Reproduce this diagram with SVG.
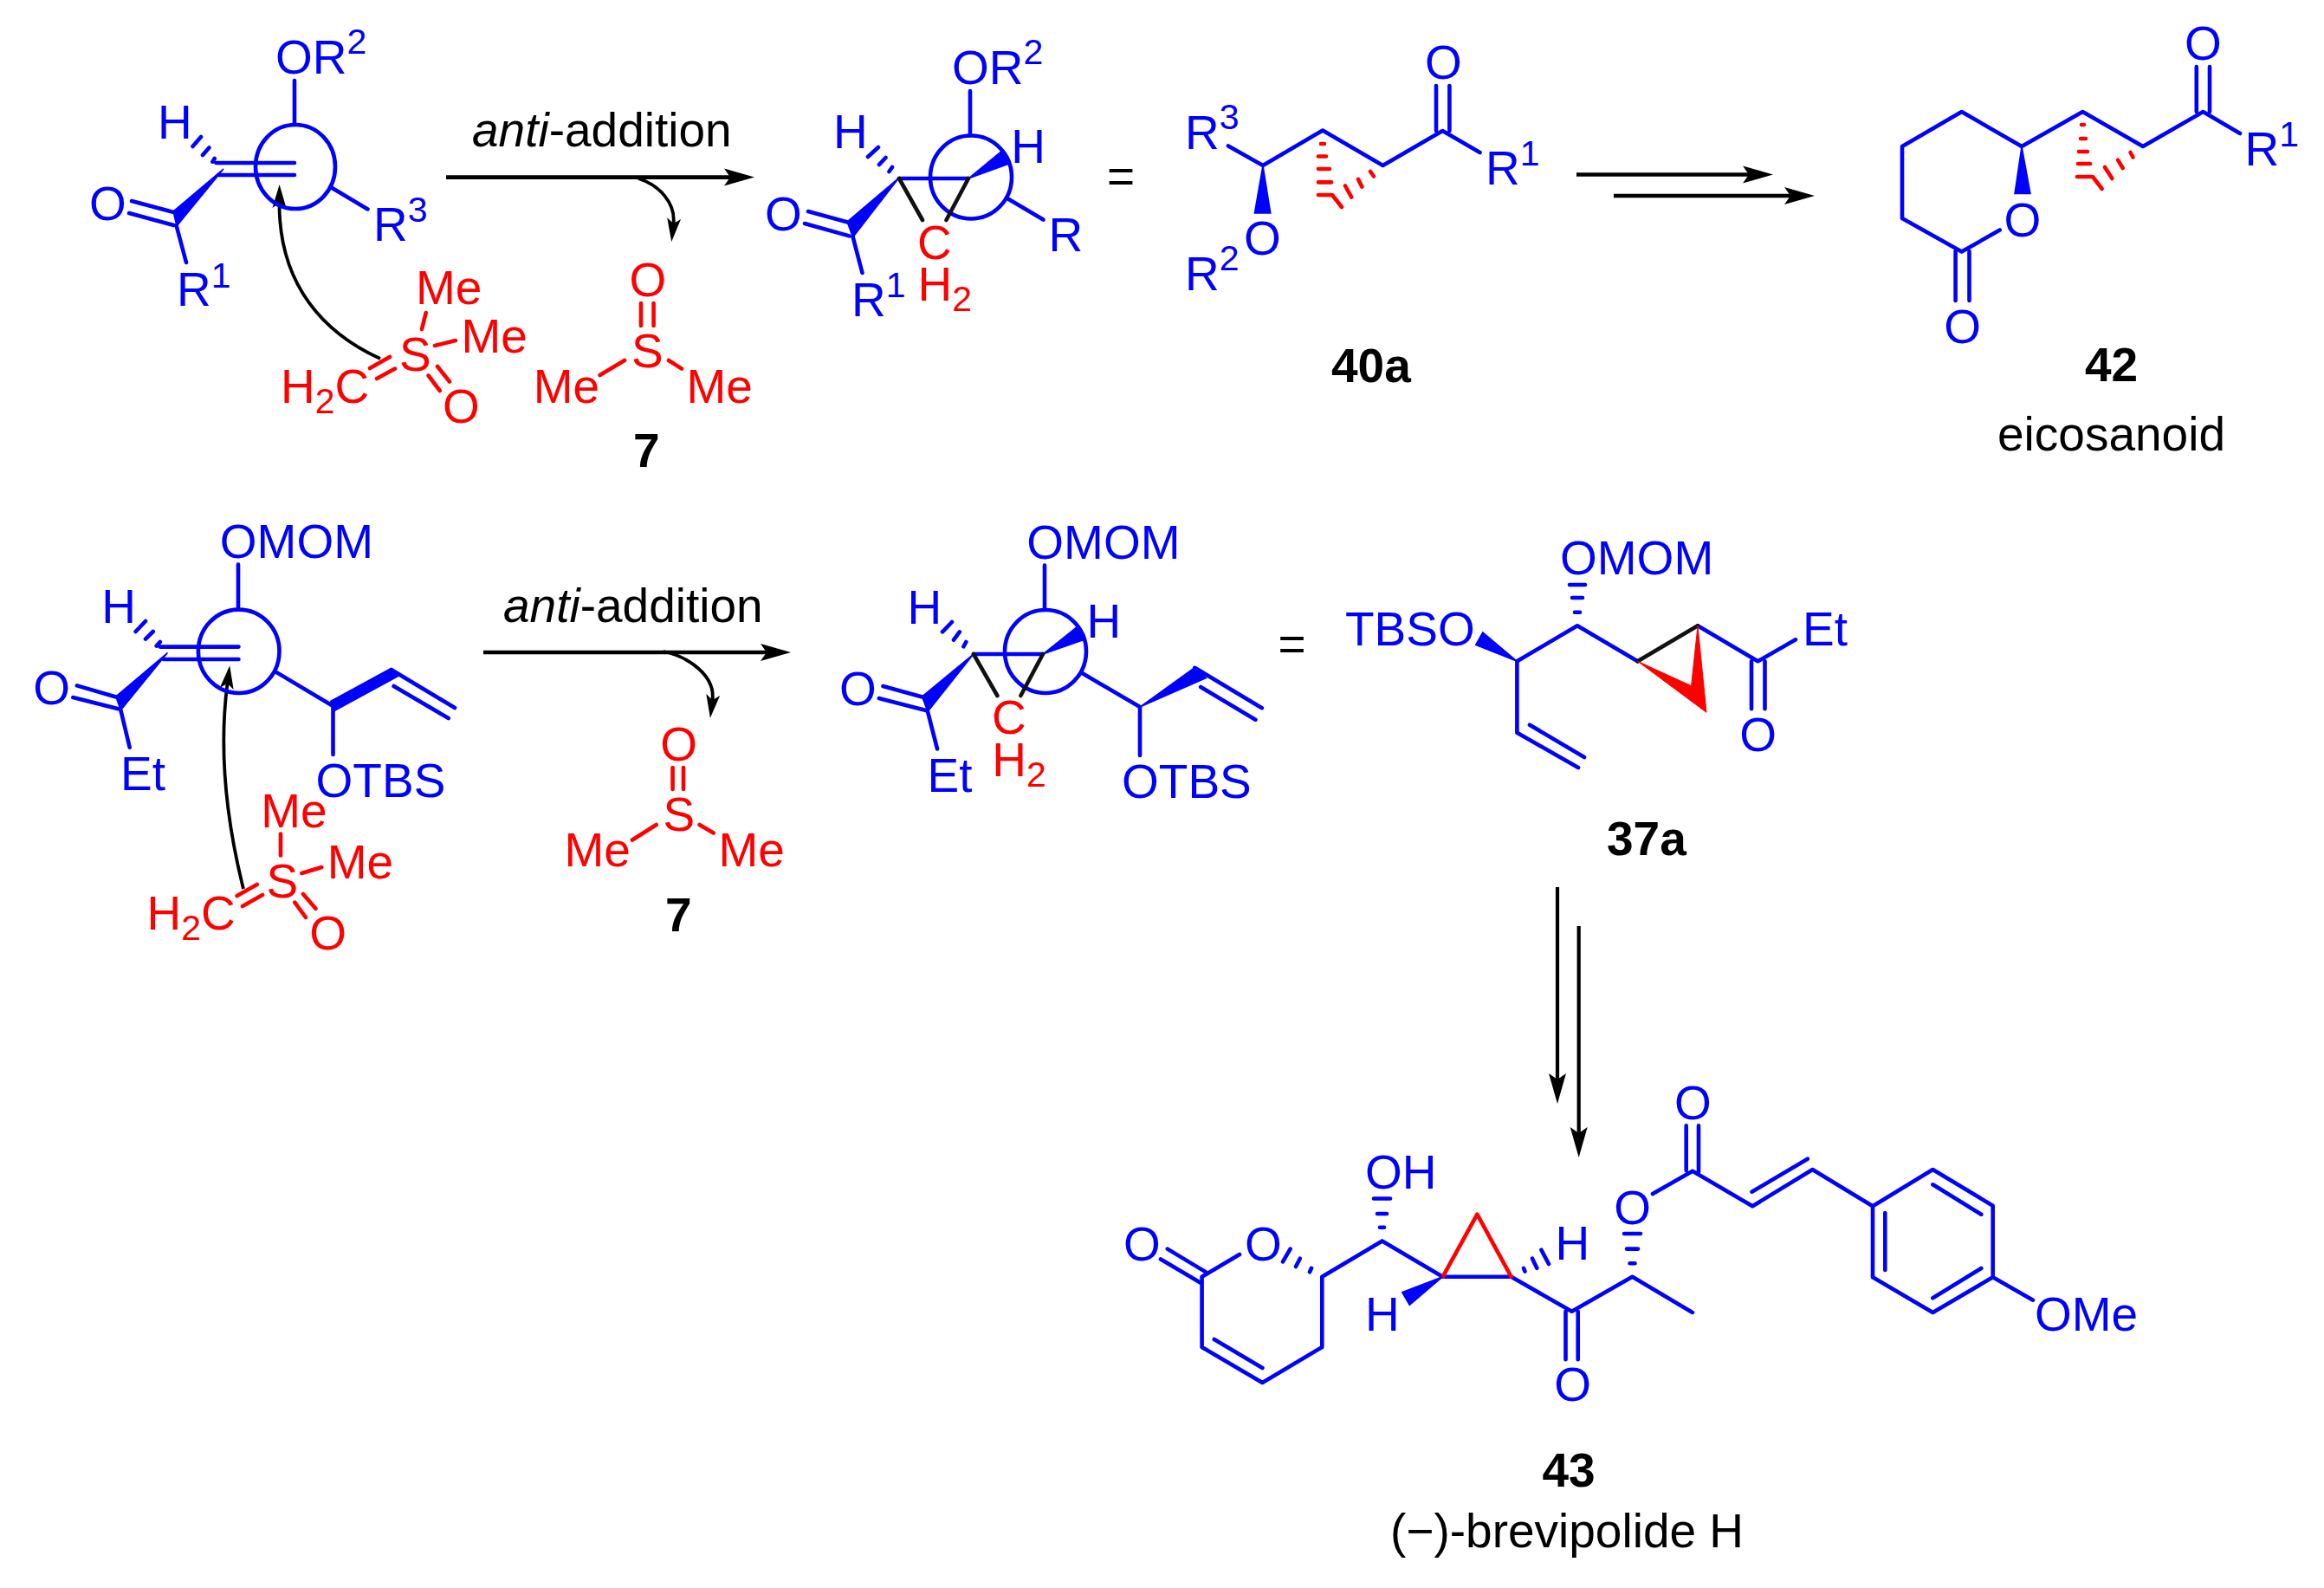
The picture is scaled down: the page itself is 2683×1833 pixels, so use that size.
<svg xmlns="http://www.w3.org/2000/svg" width="2683" height="1833" viewBox="0 0 2683 1833">
<style>
text{font-family:"Liberation Sans",Arial,sans-serif;font-size:55px}
.b{fill:#00f}.r{fill:#f00}.k{fill:#000}.bd{font-weight:700;fill:#000}.it{font-style:italic}
.sup{font-size:41px}
.lb,.lr,.lk{fill:none;stroke-width:4.6;stroke-linecap:round;stroke-linejoin:round}
.lb{stroke:#00f}.lr{stroke:#f00}.lk{stroke:#111}
.w{fill:#00f;stroke:#00f;stroke-width:1.5}.wr{fill:#f00;stroke:#f00;stroke-width:1}
.arr{fill:none;stroke:#000;stroke-width:4.6;marker-end:url(#ah)}
.arv{fill:none;stroke:#000;stroke-width:4.2;marker-end:url(#ah)}
.cur{fill:none;stroke:#000;stroke-width:3.8;marker-end:url(#ac)}
</style>
<defs>
<marker id="ah" markerUnits="userSpaceOnUse" markerWidth="36" markerHeight="22" viewBox="0 0 36 22" refX="7" refY="11" orient="auto"><path d="M35 11L0 1L7 11L0 21Z" fill="#000"/></marker>
<marker id="ac" markerUnits="userSpaceOnUse" markerWidth="28" markerHeight="18" viewBox="0 0 28 18" refX="6" refY="9" orient="auto"><path d="M27 9L0 1L6 9L0 17Z" fill="#000"/></marker>
</defs>

<g id="connectors">
<path class="arr" d="M515 204.6H843"/>
<path class="arr" d="M558 753H885"/>
<path class="arr" d="M1820 201.5H2019"/>
<path class="arr" d="M1863 226H2067"/>
<path class="arv" d="M1798 1024V1246"/>
<path class="arv" d="M1822.7 1069V1308"/>
<path class="cur" d="M737 206C762 214 780 235 777.5 258"/>
<path class="cur" d="M439 414C375 385 322 330 322.5 234"/>
<path class="cur" d="M766 752C795 758 826 780 822.5 808"/>
<path class="cur" d="M281 1026C262 950 252 870 262.5 789"/>
<text class="k" x="545" y="169"><tspan class="it">anti</tspan>-addition</text>
<text class="k" x="581" y="718"><tspan class="it">anti</tspan>-addition</text>
<text class="k" x="1278" y="222">=</text>
<text class="k" x="1475.5" y="762">=</text>
</g>

<g id="alkene-newman-1">
<ellipse class="lb" cx="341" cy="192.5" rx="46" ry="48.5"/>
<path class="lb" d="M340 93V144M249.5 188H340M252 202H340M382.6 216.6L424.5 241.4M203.5 260L215 303M152 232L200.6 245M149 246L200.6 260M232 158L222.5 169M241.4 170.5L234 179M247.7 183L245.4 186.7"/>
<polygon class="w" points="258,195 200,244 204,261"/>
<text class="b" x="318" y="85">OR<tspan class="sup" dy="-23">2</tspan></text>
<text class="b" x="182" y="160">H</text>
<text class="b" x="103" y="254">O</text>
<text class="b" x="204" y="353">R<tspan class="sup" dy="-21">1</tspan></text>
<text class="b" x="431" y="278">R<tspan class="sup" dy="-22">3</tspan></text>
</g>

<g id="sulfoxonium-ylide-1">
<path class="lr" d="M491.7 361L487 380M502 399L526 393M427 425L450 412M435 437L456 425.6M494.6 433.5L507.8 451M505 423L519 440.5"/>
<text class="r" x="461" y="428">S</text>
<text class="r" x="324" y="464.5">H<tspan style="font-size:41px" dy="12">2</tspan><tspan dy="-12">C</tspan></text>
<text class="r" x="480" y="351">Me</text>
<text class="r" x="532.5" y="407">Me</text>
<text class="r" x="511" y="488">O</text>
</g>

<g id="dmso-7-top">
<path class="lr" d="M740 350V376M754.6 350V376M692.6 433L721 416M772 416L787 425.6"/>
<text class="r" x="726.5" y="342">O</text>
<text class="r" x="729" y="424">S</text>
<text class="r" x="615.7" y="464.5">Me</text>
<text class="r" x="792.5" y="464.5">Me</text>
<text class="bd" x="731" y="539">7</text>
</g>

<g id="cyclopropane-newman-1">
<ellipse class="lb" cx="1121" cy="204.5" rx="47" ry="48"/>
<path class="lb" d="M1120 105V156M1038 206H1118M933 244L980.5 257M929 258L980.5 272.4M984.6 273.4L995.5 315M1162.5 228.7L1204.4 253.5M1014 170L1002 181M1022.5 182L1015 190M1030 193L1026.5 198"/>
<polygon class="w" points="1038,205 978,256 984.6,274"/>
<polygon class="w" points="1118,206 1155.6,175 1165.4,189"/>
<path class="lk" d="M1038 206L1065 254M1118 206L1092.5 254"/>
<text class="b" x="1099" y="97">OR<tspan class="sup" dy="-23">2</tspan></text>
<text class="b" x="962" y="171">H</text>
<text class="b" x="883" y="266">O</text>
<text class="b" x="983" y="365">R<tspan class="sup" dy="-22">1</tspan></text>
<text class="r" x="1059" y="299">C</text>
<text class="r" x="1059.4" y="347">H<tspan style="font-size:41px" dy="12">2</tspan></text>
<text class="b" x="1167.3" y="188">H</text>
<text class="b" x="1210.4" y="290">R</text>
</g>

<g id="compound-40a">
<path class="lb" d="M1418 168.4L1458 191L1527 150.5L1596.5 191L1665.4 151L1708.5 176M1658 99V151M1673.4 99V151"/>
<polygon class="w" points="1458,191 1448.4,246 1466.8,246"/>
<path class="lr" d="M1525 166H1529M1522 180.5H1531M1522 195H1535M1522 210.4H1537M1522 225H1538L1549 239M1582 198L1586 203.5M1568 207L1572.4 215.6M1553 214.5L1560.3 227.6"/>
<text class="b" x="1368" y="172">R<tspan class="sup" dy="-23">3</tspan></text>
<text class="b" x="1645" y="91">O</text>
<text class="b" x="1715" y="213">R<tspan class="sup" dy="-22">1</tspan></text>
<text class="b" x="1436" y="294">O</text>
<text class="b" x="1368" y="335.4">R<tspan class="sup" dy="-23">2</tspan></text>
<text class="bd" x="1537" y="440.5">40a</text>
</g>

<g id="compound-42">
<path class="lb" d="M2308.7 265.5L2264.7 290.6L2196 252V169L2264.7 129L2334 169L2404.4 129L2474 169L2543.4 129L2586 154M2257.6 290V347M2273.5 290V347M2535.8 77V129M2551 77V129"/>
<polygon class="w" points="2334,169 2326,223.5 2344,223.5"/>
<path class="lr" d="M2403 144H2406M2402 160H2408M2400 175H2410M2399 189H2413M2398 204H2416L2426.7 218M2459.5 176L2462.5 181.5M2445 184.6L2450.7 194M2430 193L2438.4 206"/>
<text class="b" x="2313.6" y="272.7">O</text>
<text class="b" x="2244.3" y="395.7">O</text>
<text class="b" x="2522" y="68.5">O</text>
<text class="b" x="2591.6" y="191">R<tspan class="sup" dy="-22">1</tspan></text>
<text class="bd" x="2407" y="439.7">42</text>
<text class="k" x="2306" y="519.6">eicosanoid</text>
</g>

<g id="alkene-newman-2">
<ellipse class="lb" cx="275.7" cy="751.8" rx="46.8" ry="48.2"/>
<path class="lb" d="M275 651.6V703.6M184.8 746.6H275.5M189 761H275.5M88.9 791.4L134.8 804.8M84.3 805L137.7 818.6M139.4 819.7L149.7 862.7M318.5 775.6L384.5 815M384.5 816V871M451.7 773L525 817M454.6 792L517.7 829M168 717L156.6 729M176.7 729L168 737.7M184.8 741L180.7 745.6"/>
<polygon class="w" points="193.4,753.5 133.7,804 139.4,819.7"/>
<polygon class="w" points="381.7,809.3 385.7,820.7 459,780.7 450.5,772"/>
<text class="b" x="253.8" y="644">OMOM</text>
<text class="b" x="117.2" y="718.8">H</text>
<text class="b" x="38.3" y="812.8">O</text>
<text class="b" x="139" y="912">Et</text>
<text class="b" x="364.6" y="919.5">OTBS</text>
</g>

<g id="sulfoxonium-ylide-2">
<path class="lr" d="M324 962.6V987.4M348.4 1008L371.3 1001M273.7 1034L296.7 1021M280 1046L303 1033M340.3 1041.7L353 1059M350 1032L364.4 1048.7"/>
<text class="r" x="301.3" y="954.6">Me</text>
<text class="r" x="307.5" y="1036">S</text>
<text class="r" x="377.7" y="1014">Me</text>
<text class="r" x="169.4" y="1072.7">H<tspan style="font-size:41px" dy="12">2</tspan><tspan dy="-12">C</tspan></text>
<text class="r" x="357.3" y="1096">O</text>
</g>

<g id="dmso-7-bottom">
<path class="lr" d="M776.6 886V911M789 886V911M730 969.5L757.7 952M807.6 952L823.7 961.5"/>
<text class="r" x="762.3" y="877.5">O</text>
<text class="r" x="765.5" y="959">S</text>
<text class="r" x="651.5" y="1000.4">Me</text>
<text class="r" x="829.4" y="1000.4">Me</text>
<text class="bd" x="768" y="1075">7</text>
</g>

<g id="cyclopropane-newman-2">
<ellipse class="lb" cx="1207" cy="752" rx="47" ry="48"/>
<path class="lb" d="M1206 652.6V704M1123.9 755H1204M1019.4 792L1066.5 805M1014.8 806L1069 820M1071 821.4L1082 864.4M1248.5 776.6L1316 816V872M1379.3 770.8L1456.8 817.2M1386.2 793L1449.4 830.7M1099 718L1088 729.4M1107.8 729.4L1101 738.7M1115.3 741L1112.4 746.3"/>
<polygon class="w" points="1123.9,755 1064.5,804 1071,821.4"/>
<polygon class="w" points="1204,755 1243,724 1251,738.7"/>
<polygon class="w" points="1316,816 1379,770.8 1392.5,782.5"/>
<path class="lk" d="M1123.9 755L1151.4 803M1204 755L1178.4 803"/>
<text class="b" x="1185.3" y="645">OMOM</text>
<text class="b" x="1047.6" y="719.8">H</text>
<text class="b" x="969" y="813.8">O</text>
<text class="b" x="1070.6" y="914.4">Et</text>
<text class="r" x="1145" y="847">C</text>
<text class="r" x="1145.3" y="896">H<tspan style="font-size:41px" dy="12">2</tspan></text>
<text class="b" x="1254.4" y="736">H</text>
<text class="b" x="1295" y="920.5">OTBS</text>
</g>

<g id="compound-37a">
<path class="lb" d="M1751.4 763.3L1821 722.3L1890.6 763.3M1751.4 763.3V845.7L1822 886M1766 836.7L1829 874M1960 722.3L2029.4 763.3L2073 738.3M2022 763.3V818.3M2037.5 763.3V818.3"/>
<path class="lb" d="M1812 675H1830M1815 690H1827M1818 706.7H1824"/>
<polygon class="w" points="1751.4,763.3 1711.8,730 1703.7,744.3"/>
<path class="lk" d="M1890.6 763.3L1960 722.3"/>
<polygon class="wr" points="1890.6,763.3 1952.6,791.7 1960,722.3 1970,822.3"/>
<text class="b" x="1553" y="745">TBSO</text>
<text class="b" x="1801" y="663.3">OMOM</text>
<text class="b" x="2081" y="745">Et</text>
<text class="b" x="2008.3" y="866.7">O</text>
<text class="bd" x="1855" y="986.7">37a</text>
</g>

<g id="compound-43">
<path class="lb" d="M1431 1448L1387.6 1473.8V1555L1457.4 1596L1526.3 1555V1473.8L1595.7 1432.4L1665.6 1473.8H1744.7L1814.6 1513.8L1884.5 1473.8L1953.9 1514.9M1347.8 1441.6L1392.6 1468.6M1340 1453.5L1386.5 1481M1401.8 1546L1457.4 1579M1489.6 1441.6L1481 1456.4M1500.8 1452.7L1496 1462M1514 1463.8L1512 1468.3M1586 1383.5H1605M1590 1401H1601M1593 1416.8H1598M1779.4 1442.7L1788 1459M1769 1452.7L1774.3 1463.8M1759 1463.8L1760.5 1467.5M1807.5 1513.8V1569.3M1821.7 1513.8V1569.3M1875 1424H1894M1878 1441.6H1891M1881.5 1458.3H1887.5M1908 1378L1954 1351.7L2023.2 1392.3L2092.5 1350L2162 1392.3L2231.4 1350L2300.7 1391.7V1474.3L2231.4 1515L2162 1474.3V1392.3M1946.7 1299.3V1351M1961 1299.3V1353M2022.5 1375.7L2086.8 1337.7M2231.4 1367.3L2287.3 1401.7M2176.3 1400V1466M2231.4 1498.3L2287.3 1464M2300.7 1474.3L2347 1500.7"/>
<path class="lr" d="M1665.6 1473.8L1705.4 1401.7L1744.7 1473.8"/>
<polygon class="w" points="1665.6,1473.8 1618.7,1491.6 1627.3,1506.4"/>
<text class="b" x="1297" y="1454.6">O</text>
<text class="b" x="1437" y="1454.6">O</text>
<text class="b" x="1576" y="1372.4">OH</text>
<text class="b" x="1576" y="1536">H</text>
<text class="b" x="1795.4" y="1453.8">H</text>
<text class="b" x="1794.3" y="1617.4">O</text>
<text class="b" x="1863.3" y="1413">O</text>
<text class="b" x="1933" y="1291.7">O</text>
<text class="b" x="2349" y="1536">OMe</text>
<text class="bd" x="1780.5" y="1716">43</text>
<text class="k" x="1605" y="1786.4">(−)-brevipolide H</text>
</g>
</svg>
